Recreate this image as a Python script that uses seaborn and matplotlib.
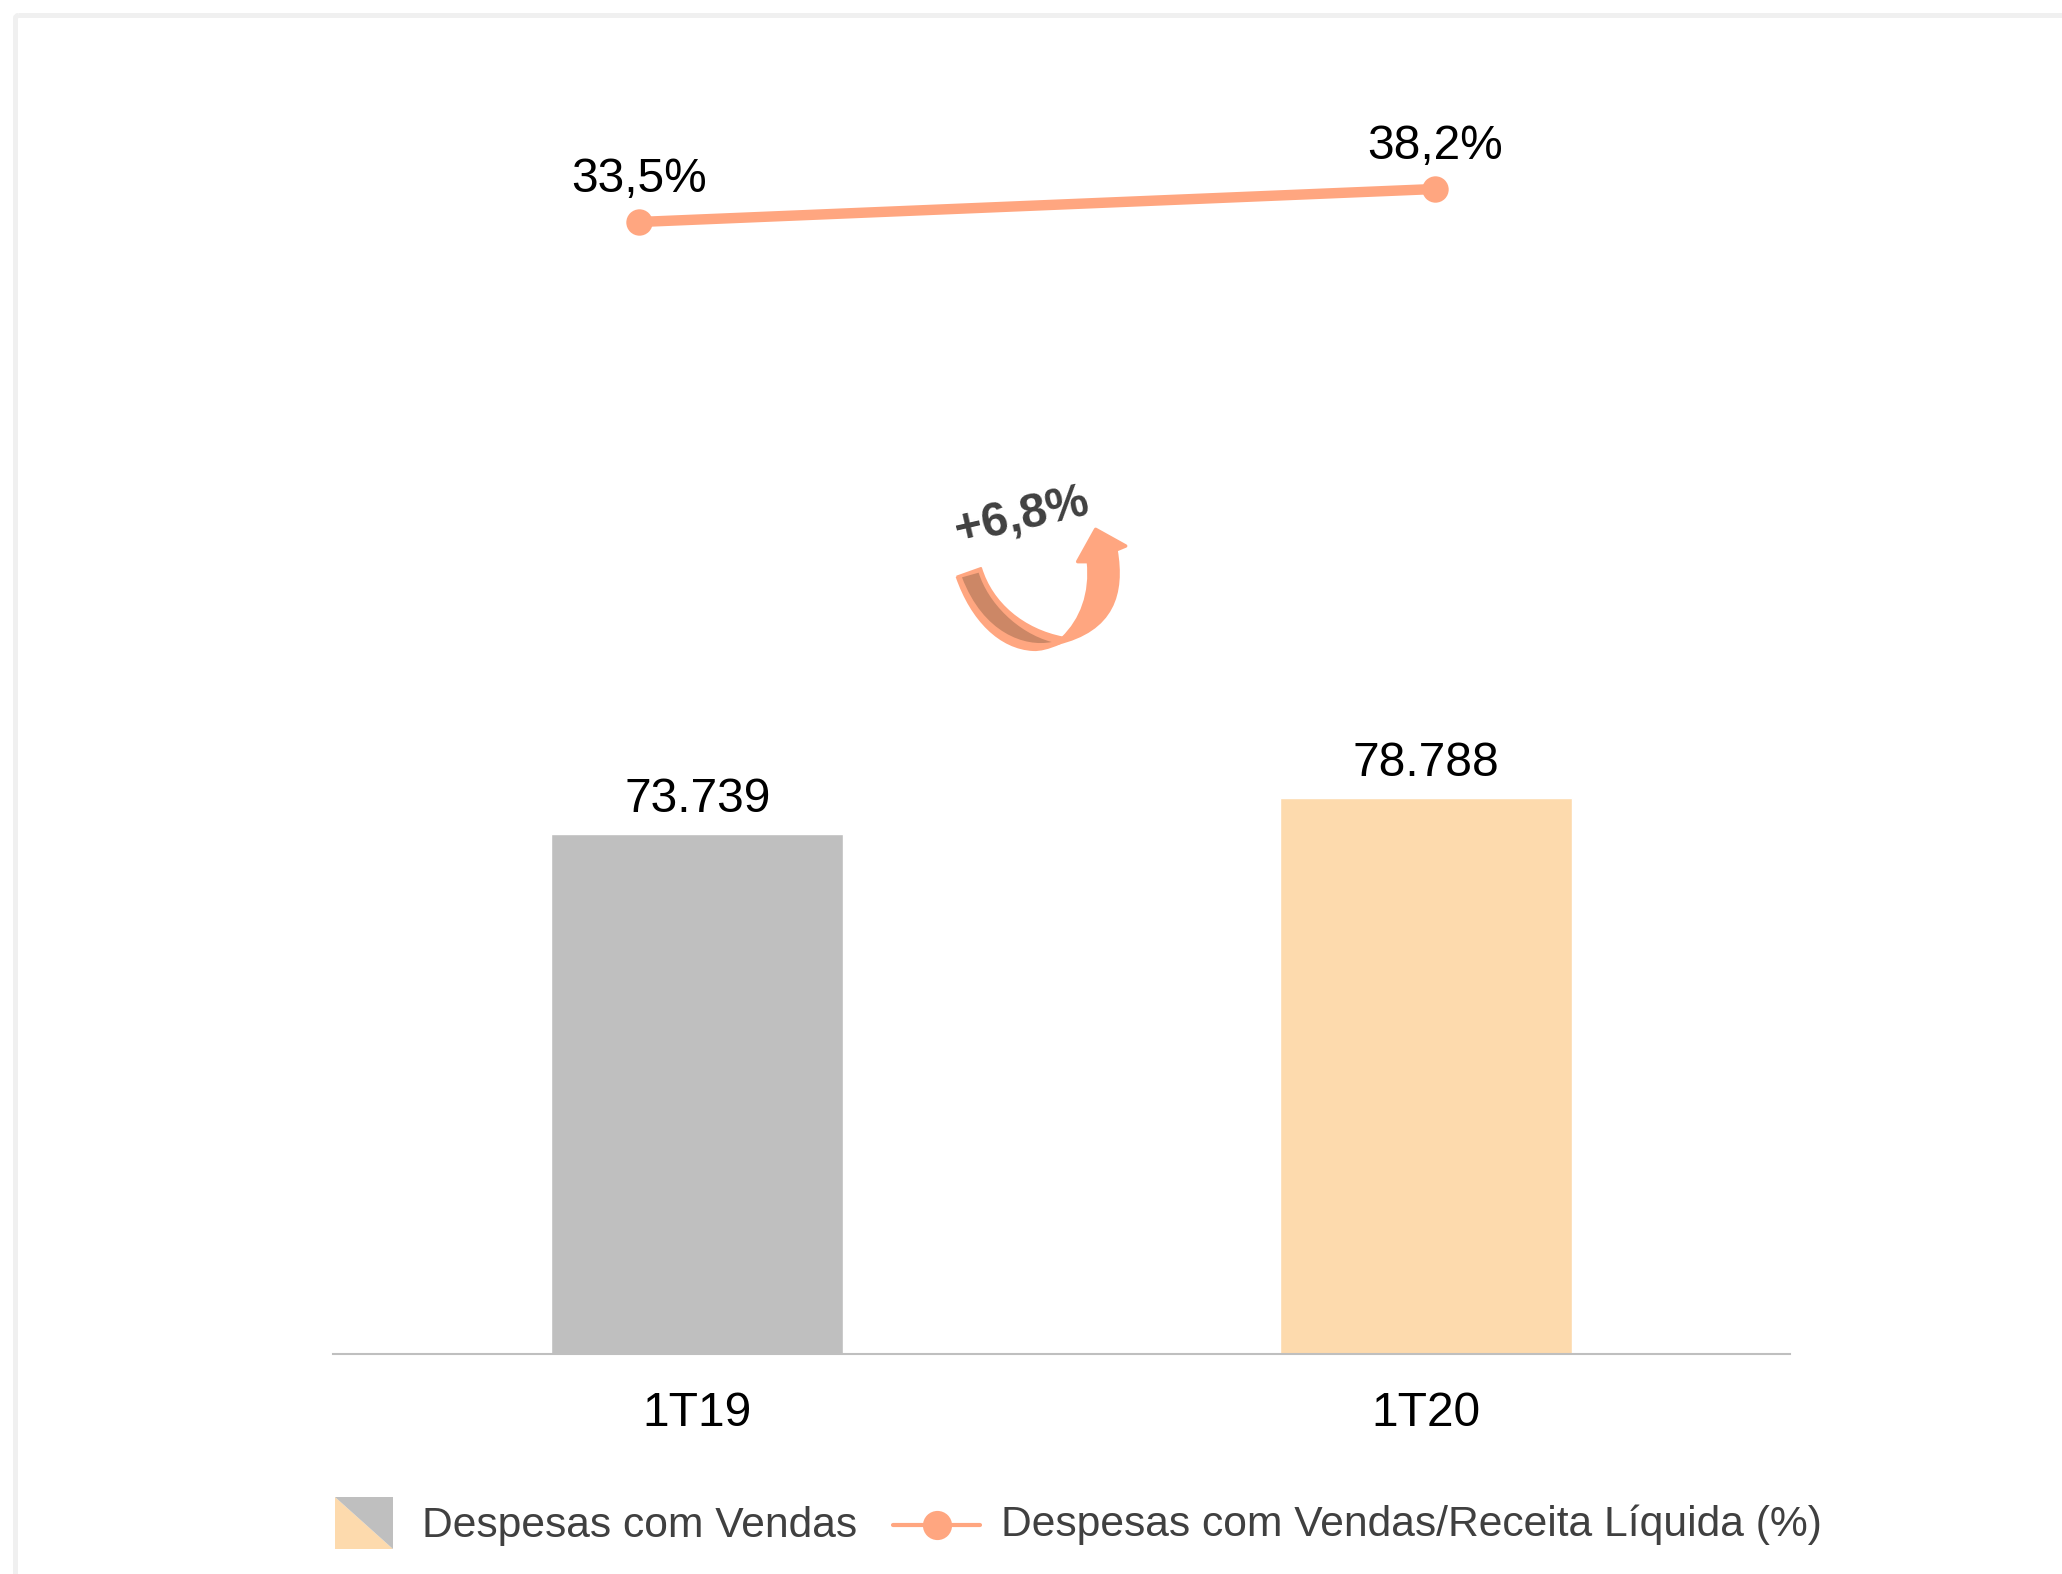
#!/usr/bin/env python
import matplotlib
matplotlib.use('Agg')
import matplotlib.pyplot as plt
from matplotlib.legend_handler import HandlerBase, HandlerLine2D
from matplotlib.lines import Line2D
from matplotlib.patches import FancyBboxPatch, PathPatch, Patch, Polygon
from matplotlib.path import Path
import pandas as pd
import seaborn as sns

PERIODS = ['1T19', '1T20']
DESPESAS = [73739, 78788]
RATIO = [33.5, 38.2]
RATIO_LABELS = ['33,5%', '38,2%']
BAR_LABELS = ['73.739', '78.788']
GROWTH_LABEL = '+6,8%'
LEGEND_BAR = 'Despesas com Vendas'
LEGEND_LINE = 'Despesas com Vendas/Receita Líquida (%)'

GREY = '#bfbfbf'
CREAM = '#fddaad'
SALMON = '#ffa680'
TEXT_DARK = '#404040'

W, H = 2062, 1574

sns.set_theme(style='white')
plt.rcParams['font.family'] = ['Liberation Sans', 'DejaVu Sans']

def px_axes(fig, x0, y0, x1, y1):
    # axes placed by pixel box, y measured from the top of the image
    return fig.add_axes([x0 / W, 1 - y1 / H, (x1 - x0) / W, (y1 - y0) / H])

class SplitSwatch(HandlerBase):
    def create_artists(self, legend, orig_handle, xdescent, ydescent, width, height, fontsize, trans):
        x0, y0 = -xdescent, -ydescent
        x1, y1 = x0 + width, y0 + height
        grey = Polygon([(x0, y1), (x1, y1), (x1, y0)], closed=True, fc=GREY, ec='none', transform=trans)
        cream = Polygon([(x0, y1), (x0, y0), (x1, y0)], closed=True, fc=CREAM, ec='none', transform=trans)
        return [cream, grey]

class LoweredLine(HandlerLine2D):
    # the line key sits a little under the middle of its text
    def create_artists(self, legend, orig_handle, xdescent, ydescent, width, height, fontsize, trans):
        artists = super().create_artists(legend, orig_handle, xdescent, ydescent, width, height, fontsize, trans)
        for a in artists:
            a.set_ydata([y - 3.0 for y in a.get_ydata()])
        return artists

fig = plt.figure(figsize=(W / 100, H / 100), dpi=100, facecolor='white')

# pale frame of the slide, open to the right and bottom
bg = fig.add_axes([0, 0, 1, 1])
bg.set_xlim(0, W); bg.set_ylim(H, 0); bg.axis('off')
bg.add_patch(FancyBboxPatch((15.5, 15.5), W + 60, H + 60, boxstyle='round,pad=0,rounding_size=3',
                            fc='none', ec='#f0f0f0', lw=3.6))

# ---- bars ----
df = pd.DataFrame({'periodo': PERIODS, 'despesas': DESPESAS})
ax = px_axes(fig, 333, 300, 1790, 1354)
ax.patch.set_alpha(0)
sns.barplot(data=df, x='periodo', y='despesas', hue='periodo', palette=[GREY, CREAM],
            width=0.401, legend=False, saturation=1, ax=ax)
ax.set_xlim(-0.5, 1.5)
ax.set_ylim(0, 1049 * 73739 / 518)
for cont, lbl in zip(ax.containers, BAR_LABELS):
    ax.bar_label(cont, labels=[lbl], padding=8.5, fontsize=34.5, color='black')
ax.set_xlabel(''); ax.set_ylabel('')
ax.set_yticks([])
ax.tick_params(axis='x', length=0, pad=26.5, labelsize=34.5, labelcolor='black')
sns.despine(ax=ax, left=True)
ax.spines['bottom'].set_color(GREY)
ax.spines['bottom'].set_linewidth(1.5)

# ---- ratio line, on its own scale ----
ax2 = px_axes(fig, 333, 120, 1790, 290)
ax2.patch.set_alpha(0)
sns.lineplot(x=[0, 1], y=RATIO, color=SALMON, lw=7.5, marker='o', markersize=19,
             markeredgewidth=0, solid_capstyle='round', ax=ax2)
ax2.set_xlim((333 - 639) / 796, (1790 - 639) / 796)
ax2.set_ylim(RATIO[0] - 68 * 4.7 / 33, RATIO[0] + 102 * 4.7 / 33)
for i, lbl in enumerate(RATIO_LABELS):
    ax2.annotate(lbl, (i, RATIO[i]), xytext=(0, 30.5), textcoords='offset points',
                 ha='center', va='center', fontsize=34.5, color='black')
ax2.axis('off')

# ---- curved growth arrow, drawn in the crop coordinates it was read from ----
arr = px_axes(fig, 900, 460, 1160, 680)
arr.set_xlim(0, 780); arr.set_ylim(660, 0); arr.axis('off')
C4, M, L = Path.CURVE4, Path.MOVETO, Path.LINETO
back = Path([(170, 350), (243, 324),
             (275, 430), (370, 510), (490, 533),
             (480, 550),
             (445, 565), (420, 571), (400, 570),
             (300, 565), (215, 480), (170, 350)],
            [M, L, C4, C4, C4, L, C4, C4, C4, C4, C4, C4])
arr.add_patch(PathPatch(back, fc=SALMON, ec=SALMON, lw=1.5, joinstyle='round'))
inner = Path([(186, 352), (236, 338),
              (264, 428), (352, 518), (455, 546),
              (375, 562), (250, 520), (186, 352)],
             [M, L, C4, C4, C4, C4, C4, C4])
arr.add_patch(PathPatch(inner, fc='#cc8766', ec='none'))
front = Path([(488, 535),
              (545, 480), (575, 400), (565, 305),
              (533, 305), (587, 208), (677, 258), (648, 270),
              (670, 400), (640, 510), (470, 550), (488, 535)],
             [M, C4, C4, C4, L, L, L, L, C4, C4, C4, L])
arr.add_patch(PathPatch(front, fc=SALMON, ec=SALMON, lw=2.5, joinstyle='round'))
arr.text(365, 172, GROWTH_LABEL, rotation=13, ha='center', va='center', fontsize=34.3,
         fontweight='bold', color=TEXT_DARK, rotation_mode='anchor')

# ---- legends, one each because the handles differ in width ----
FS = 30.7
EM = FS * 100 / 72
leg1 = fig.legend(handles=[Patch(label=LEGEND_BAR)], handler_map={Patch: SplitSwatch()},
                  loc='center left', bbox_to_anchor=(335 / W, 1 - 1523 / H), frameon=False,
                  fontsize=FS, labelcolor=TEXT_DARK, handlelength=58 / EM,
                  handleheight=1.47, handletextpad=29 / EM,
                  borderpad=0, borderaxespad=0)
line_handle = Line2D([], [], color=SALMON, lw=3, marker='o', markersize=21, markeredgewidth=0,
                     label=LEGEND_LINE)
leg2 = fig.legend(handles=[line_handle], handler_map={Line2D: LoweredLine(numpoints=1)},
                  loc='center left', bbox_to_anchor=(893 / W, 1 - 1525 / H), frameon=False,
                  fontsize=FS, labelcolor=TEXT_DARK, handlelength=87 / EM,
                  handletextpad=21 / EM, borderpad=0, borderaxespad=0)

fig.savefig('out.png', dpi=100)
plt.close('all')
